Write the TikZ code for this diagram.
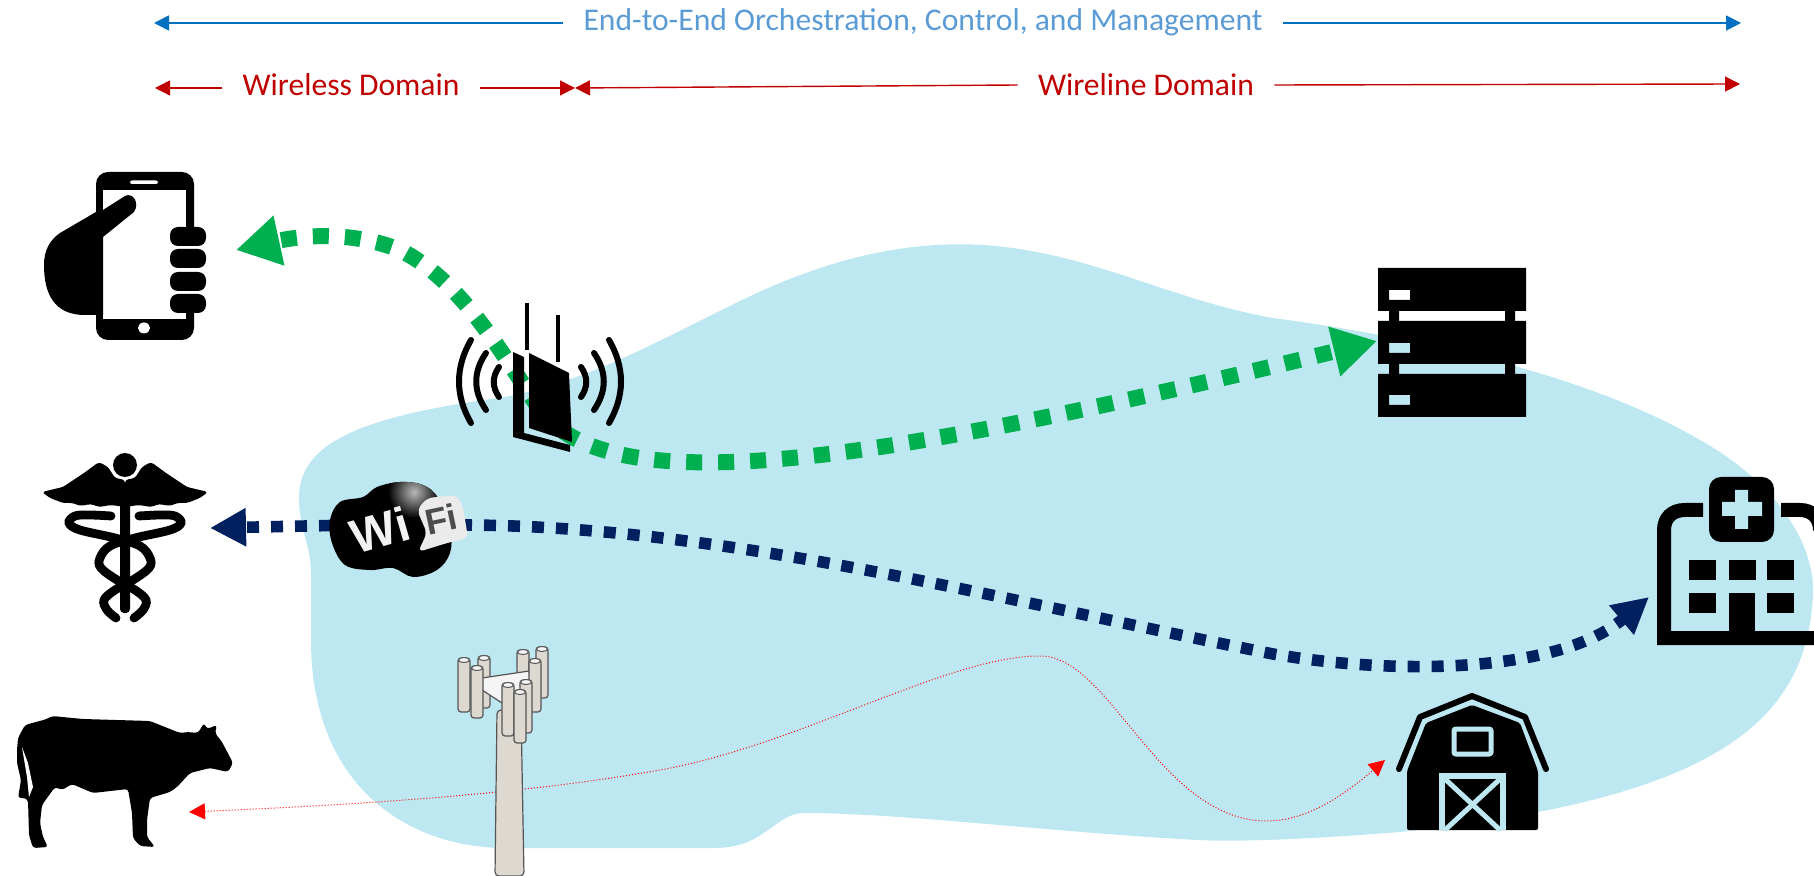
\documentclass[tikz,border=0pt]{standalone}
\usepackage{fontspec}
\setmainfont{Carlito}
\newfontfamily\wififont{Liberation Sans}
\usepackage{tikz}
\usetikzlibrary{arrows.meta}
\usetikzlibrary{positioning}
\definecolor{cloudblue}{HTML}{BDE8F2}
\definecolor{flowgreen}{HTML}{00B050}
\definecolor{flownavy}{HTML}{002060}
\definecolor{spanblue}{HTML}{0070C0}
\definecolor{spantext}{HTML}{5B9BD5}
\definecolor{spanred}{HTML}{C00000}
\definecolor{towergrey}{HTML}{DDD8D0}
\definecolor{towerline}{HTML}{555555}
\tikzset{
  % Span arrows along the top
  bluespan/.style={-{Triangle[length=7.5pt,width=7.5pt]}, draw=spanblue, line width=.8pt},
  redspan/.style={-{Triangle[length=7.5pt,width=7.5pt]}, draw=spanred, line width=.7pt},
  bluelbl/.style={font=\fontsize{15.8}{17}\selectfont, text=spantext, inner sep=10pt},
  redlbl/.style={font=\fontsize{15.8}{17}\selectfont, text=spanred, inner sep=10pt},
  % Traffic flows
  greenflow/.style={-{Triangle[length=22pt,width=24pt]}, draw=flowgreen, line width=8pt, dash pattern=on 8pt off 8pt},
  navyflow/.style={-{Triangle[length=18pt,width=18pt]}, draw=flownavy, line width=5.8pt, dash pattern=on 6pt off 6pt},
  redflow/.style={{Triangle[length=8pt,width=8pt]}-{Triangle[length=8pt,width=8pt]}, draw=red, line width=.5pt, densely dotted},
  % Pictogram parts
  finger/.style={fill=black, rounded corners=4pt},
  snake/.style={draw=black, line width=4.4pt, line cap=round},
  wave/.style={draw=black, line width=3pt, line cap=round},
  antenna/.style={draw=towerline, fill=towergrey, line width=.6pt, rounded corners=1.5pt},
  barnline/.style={draw=cloudblue, line width=2.5pt},
}
\begin{document}
\begin{tikzpicture}[x=.5pt,y=-.5pt]
\useasboundingbox (0,0) rectangle (1814,876);
\clip (0,0) rectangle (1814,876);

% the wireline cloud
\fill[cloudblue] (299,497) .. controls (299,440) and (370,415) .. (505,397)
  .. controls (590,380) and (650,345) .. (740,301)
  .. controls (820,262) and (900,240) .. (983,245)
  .. controls (1090,252) and (1170,300) .. (1273,318)
  .. controls (1400,335) and (1580,370) .. (1700,440)
  .. controls (1780,485) and (1813,545) .. (1813,590)
  .. controls (1810,730) and (1700,800) .. (1400,832)
  .. controls (1300,840) and (1230,842) .. (1197,840)
  .. controls (1050,832) and (900,813) .. (804,813)
  .. controls (775,813) and (765,848) .. (715,848)
  -- (500,848) .. controls (400,845) and (311,780) .. (311,640)
  -- (311,573) .. controls (311,545) and (299,530) .. cycle;

% span labels and arrows
\node[bluelbl] (e2e) at (923,22) {End-to-End Orchestration, Control, and Management};
\coordinate (e2eleft) at (154,23);
\coordinate (e2eright) at (1741,23);
\draw[bluespan] (e2e.west |- e2eleft) -- (e2eleft);
\draw[bluespan] (e2e.east |- e2eright) -- (e2eright);

\node[redlbl] (wireless) at (351,85) {Wireless Domain};
\node[redlbl] (wireline) at (1146,85) {Wireline Domain};
\coordinate (wirelessleft) at (155,88);
\coordinate (domainsplit) at (575,88);
\coordinate (wirelineright) at (1740,84);
\draw[redspan] (wireless.west |- wirelessleft) -- (wirelessleft);
\draw[redspan] (wireless.east |- domainsplit) -- (domainsplit);
\draw[redspan] (wireline.west) -- (domainsplit);
\draw[redspan] (wireline.east) -- (wirelineright);

% ends of the flows
\coordinate (routerport) at (540,410);
\coordinate (phoneport) at (236,250);
\coordinate (serverport) at (1377,341);
\coordinate (wifileft) at (355,525);
\coordinate (wifiright) at (460,525);
\coordinate (caduceusport) at (210,528);
\coordinate (hospitalport) at (1649,597);
\coordinate (cowport) at (189,812);
\coordinate (barnport) at (1385,760);

\draw[greenflow] (routerport) .. controls (500,350) and (460,280) .. (400,250)
  .. controls (350,230) and (300,236) .. (phoneport);
\draw[greenflow] (routerport) .. controls (610,500) and (850,470) .. (serverport);
\draw[navyflow] (wifileft) -- (caduceusport);
\draw[navyflow] (wifiright) .. controls (720,525) and (1000,600) .. (1273,654)
  .. controls (1400,676) and (1560,672) .. (hospitalport);
\draw[redflow] (cowport) .. controls (350,805) and (520,795) .. (660,770)
  .. controls (800,745) and (950,655) .. (1041,656)
  .. controls (1110,656) and (1160,821) .. (1267,821)
  .. controls (1310,821) and (1350,790) .. (barnport);

% phone in a hand
\fill[black, rounded corners=6pt] (96,172) rectangle (194,340);
\fill[white] (103,190) rectangle (186,319);
\fill[white, rounded corners=1pt] (130,180.5) rectangle (158,184);
\fill[white] (144,328) ellipse (6 and 5.5);
\fill[black] (103,210) -- (125,196) .. controls (133,192) and (140,203) .. (134,212)
  -- (103,237) -- (103,315) -- (85,315) .. controls (55,315) and (44,295) .. (44,265)
  .. controls (44,250) and (50,240) .. (60,233) -- (96,212) -- cycle;
\fill[white] (186,246) rectangle (206,294);
\foreach \ftop in {227,249,272,294}
  \fill[finger] (170,\ftop) rectangle ++(36,19);

% router
\draw[black, line width=1.8pt] (527,303) -- (527,350);
\draw[black, line width=1.8pt] (558,315) -- (558,362);
\fill[black] (529,353) -- (569,373) -- (572,442) -- (529,428) -- cycle;
\fill[black] (513,352) -- (524,357) -- (524,433) -- (570,445) -- (570,452) -- (513,437) -- cycle;
\foreach \tipx/\midx/\ytop/\ybot in {499/492/367/397, 486/473/353/410, 471/455/340/423} {
  \draw[wave] (\tipx,\ytop) .. controls (\midx,{\ytop+(\ybot-\ytop)/3}) and (\midx,{\ybot-(\ybot-\ytop)/3}) .. (\tipx,\ybot);
  \draw[wave] ({1080-\tipx},\ytop) .. controls ({1080-\midx},{\ytop+(\ybot-\ytop)/3}) and ({1080-\midx},{\ybot-(\ybot-\ytop)/3}) .. ({1080-\tipx},\ybot);
}

% server rack
\foreach \stop/\spot in {268/290, 321/343, 374/395} {
  \fill[black, even odd rule] (1378,\stop) rectangle ++(148,43) (1389,\spot) rectangle ++(21,10);
}
\fill[black] (1389,311) rectangle (1399,321) (1505,311) rectangle (1515,321);
\fill[black] (1389,364) rectangle (1399,374) (1505,364) rectangle (1515,374);

% caduceus
\fill[black] (125,465) circle (12);
\fill[black, rounded corners=2pt] (120,500) rectangle (130,613);
\foreach \side in {1,-1} {
  \begin{scope}[shift={(125,0)}, xscale=\side]
    \fill[black, rounded corners=1.5pt] (0,480) -- (-10,478) -- (-17,467) -- (-26,462) -- (-41,473)
      -- (-62,487) -- (-83,492) -- (-75,498) -- (-62,503) -- (-52,503) -- (-45,506) -- (-34,504)
      -- (-26,507) -- (-14,505) -- (0,507) -- cycle;
    \draw[snake] plot[smooth, tension=.6] coordinates {
      (-14,516) (-35,515) (-50,516) (-56,523) (-45,530) (-10,538) (15,546) (25,558)
      (24,568) (8,580) (-10,590) (-21,600) (-18,610) (-9,618)};
  \end{scope}
}

% wifi cloud
\begin{scope}
  \clip plot[smooth cycle, tension=.6] coordinates {
    (330,520) (340,502) (363,497) (377,487) (400,482) (423,485) (438,498) (450,530)
    (450,553) (437,570) (413,577) (393,568) (370,570) (345,565) (332,543)};
  \fill[black] (320,470) rectangle (480,590);
  \shade[inner color=gray!55, outer color=black] (414,492) circle (26);
\end{scope}
\fill[white!92!black, rounded corners=3pt] (417,510) -- (427,498) -- (457,495) -- (463,507) -- (468,538)
  -- (447,543) -- (418,552) -- (427,533) -- cycle;
\node[inner sep=0pt, rotate=16, text=white!90!gray, font=\wififont\bfseries\fontsize{24}{25}\selectfont] (wifiwi) at (380,530) {Wi};
\node[inner sep=0pt, rotate=12, text=black!70, font=\wififont\bfseries\fontsize{18}{19}\selectfont] (wififi) at (441,519) {Fi};

% hospital
\draw[black, line width=7pt] (1703,510) -- (1685,510) .. controls (1672,510) and (1664,518) .. (1664,530)
  -- (1664,638) -- (1820,638);
\draw[black, line width=7pt] (1781,510) -- (1800,510) .. controls (1812,510) and (1820,518) .. (1820,530);
\fill[black, rounded corners=6pt] (1709,477) rectangle (1774,542);
\fill[cloudblue] (1735,490) rectangle (1748,529) (1722,502) rectangle (1762,516);
\foreach \wx/\wy in {1689/560, 1729/560, 1767/560, 1689/593, 1767/593}
  \fill[black] (\wx,\wy) rectangle ++(27,20);
\fill[black] (1729,593) rectangle (1755,640);

% barn
\fill[black, rounded corners=1pt] (1407,830) -- (1407,771) -- (1426,723) -- (1472,705) -- (1520,723)
  -- (1538,771) -- (1538,830) -- cycle;
\draw[black, line width=3pt, line cap=round, line join=round] (1399,769) -- (1420,717) -- (1472,696)
  -- (1525,717) -- (1546,769);
\draw[barnline, rounded corners=1pt] (1454,729) rectangle (1491,754);
\fill[cloudblue] (1439,773) rectangle (1506,830);
\fill[black] (1445,779) rectangle (1500,830);
\draw[barnline] (1445,779) -- (1500,830) (1500,779) -- (1445,830);

% cow
\fill[black, rounded corners=1.5pt] (17,750) -- (18,738) -- (25,725) -- (47,719) -- (52,716) -- (83,719)
  -- (150,721) -- (180,733) -- (188,732) -- (198,733) -- (204,723) -- (207,729) -- (217,725)
  -- (215,733) -- (222,742) -- (233,763) -- (228,772) -- (210,768) -- (190,773) -- (177,787)
  -- (170,792) -- (150,798) -- (147,820) -- (147,837) -- (155,847) -- (140,846) -- (133,838)
  -- (132,813) -- (128,789) -- (93,793) -- (72,784) -- (62,790) -- (55,787) -- (42,805)
  -- (40,823) -- (43,837) -- (48,847) -- (33,848) -- (29,835) -- (28,800) -- (25,798)
  -- (18,798) -- (21,780) -- (17,763) -- cycle;
\fill[white] (22,747) -- (28,763) -- (33,787) -- (29,797) -- (27,777) -- cycle;

% cell tower
\foreach \cx/\ctop/\cbot in {542/647/698, 523/650/690, 484/656/708}
  \draw[antenna] (\cx-6,\ctop) rectangle (\cx+6,\cbot);
\draw[antenna, rounded corners=2pt] (497,710) -- (495,876) -- (524,876) -- (521,710) -- cycle;
\draw[draw=towerline, fill=white!92!gray, line width=.6pt] (482,678) -- (529,671) -- (531,687) -- (502,703)
  -- (482,690) -- cycle;
\foreach \cx/\ctop/\cbot in {464/658/712, 477/666/718, 535/659/712, 526/680/733, 508/683/736, 520/690/743}
  \draw[antenna] (\cx-6,\ctop) rectangle (\cx+6,\cbot);
\foreach \cx/\ctop in {542/647, 523/650, 484/656, 464/658, 477/666, 535/659, 526/680, 508/683, 520/690}
  \draw[draw=towerline, fill=white!92!gray, line width=.5pt] (\cx,\ctop+2) ellipse (5.5 and 2.5);

\end{tikzpicture}
\end{document}
